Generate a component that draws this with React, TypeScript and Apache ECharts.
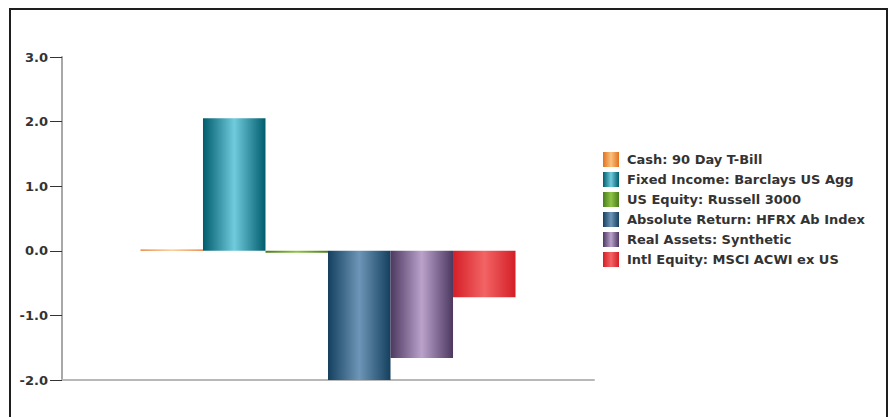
import React, { useEffect, useRef } from "react";
import * as echarts from "echarts";

const categories = ["Returns"];
const seriesNames = [
  "Cash: 90 Day T-Bill",
  "Fixed Income: Barclays US Agg",
  "US Equity: Russell 3000",
  "Absolute Return: HFRX Ab Index",
  "Real Assets: Synthetic",
  "Intl Equity: MSCI ACWI ex US",
];
const seriesValues = [0.02, 2.05, -0.03, -2.0, -1.66, -0.72];
const darkColors = ["#e2711f", "#005d6c", "#4b7c1c", "#14405e", "#4c3860", "#d41f26"];
const lightColors = ["#f9c27e", "#70cbdc", "#8ec446", "#6d95b7", "#baa2cb", "#f26465"];
const yTicks = { min: -2, max: 3, interval: 1 };

function grad(dark: string, light: string) {
  return new echarts.graphic.LinearGradient(0, 0, 1, 0, [
    { offset: 0, color: dark },
    { offset: 0.5, color: light },
    { offset: 1, color: dark },
  ]);
}

export default function App() {
  const ref = useRef<HTMLDivElement>(null);
  useEffect(() => {
    document.body.style.margin = "0";
    const chart = echarts.init(ref.current!, null, { renderer: "svg" });
    chart.setOption({
      animation: false,
      backgroundColor: "#ffffff",
      graphic: [
        {
          type: "rect",
          shape: { x: 10, y: 9, width: 877, height: 430 },
          style: { fill: "none", stroke: "#1e1e1e", lineWidth: 2 },
          silent: true,
        },
      ],
      grid: { left: 62, right: 298, top: 57, bottom: 37 },
      legend: {
        orient: "vertical",
        left: 598,
        top: 147,
        itemWidth: 16,
        itemHeight: 15,
        itemGap: 5,
        icon: "rect",
        data: seriesNames,
        textStyle: {
          fontFamily: "DejaVu Sans",
          fontWeight: "bold",
          fontSize: 13,
          lineHeight: 15,
          color: "#333",
          padding: [0, 0, 0, 3],
        },
      },
      xAxis: {
        type: "category",
        data: categories,
        axisLine: { onZero: false, lineStyle: { color: "#b8b8b8", width: 2 } },
        axisTick: { show: false },
        axisLabel: { show: false },
        splitLine: { show: false },
      },
      yAxis: {
        type: "value",
        min: yTicks.min,
        max: yTicks.max,
        interval: yTicks.interval,
        axisLine: { show: true, lineStyle: { color: "#a8a8a8", width: 2 } },
        axisTick: { show: true, length: 12, lineStyle: { color: "#333", width: 1 } },
        axisLabel: {
          margin: 14,
          formatter: (v: number) => v.toFixed(1),
          fontFamily: "DejaVu Sans",
          fontWeight: "bold",
          fontSize: 13,
          color: "#333",
        },
        splitLine: { show: false },
      },
      series: seriesNames.map((name, i) => ({
        name,
        type: "bar",
        data: [seriesValues[i]],
        barGap: "0%",
        barCategoryGap: "29.5%",
        itemStyle: { color: grad(darkColors[i], lightColors[i]) },
      })),
    });
    return () => chart.dispose();
  }, []);
  return (
    <div
      ref={ref}
      style={{ position: "absolute", left: 0, top: 0, width: 892, height: 417 }}
    />
  );
}
